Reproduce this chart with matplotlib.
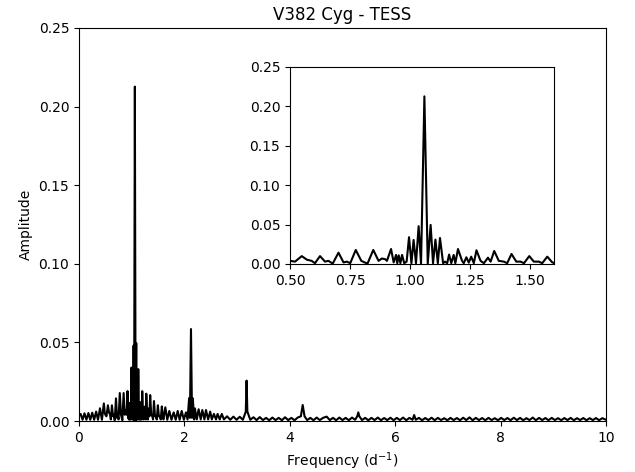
import matplotlib
matplotlib.use("Agg")
import matplotlib.pyplot as plt
import numpy as np

# amplitude spectrum, traced as local maxima / minima (freq in d^-1)
# 0 - 0.5 : window sidelobes of the main peak
freq_low = [0.0, 0.031, 0.068, 0.104, 0.141, 0.178, 0.214, 0.251, 0.288,
            0.325, 0.361, 0.398, 0.435, 0.472, 0.490]
amp_low = [0.003, 0.0045, 0.0008, 0.0049, 0.0008, 0.0051, 0.0008, 0.0053, 0.0008,
           0.006, 0.0008, 0.0081, 0.0008, 0.0112, 0.005]

# 0.5 - 1.6 : region shown in the inset (main peak f1 = 1.060)
freq_mid = [0.500, 0.521, 0.549, 0.570, 0.590, 0.604, 0.625, 0.646, 0.660, 0.678,
            0.702, 0.723, 0.737, 0.751, 0.774, 0.797, 0.811, 0.823, 0.847, 0.869,
            0.883, 0.897, 0.904, 0.921, 0.932, 0.942, 0.947, 0.953, 0.960, 0.967,
            0.976, 0.986, 0.996, 1.006, 1.015, 1.025, 1.036, 1.046, 1.060, 1.074,
            1.086, 1.096, 1.106, 1.116, 1.125, 1.138, 1.146, 1.155, 1.163, 1.172,
            1.182, 1.189, 1.200, 1.217, 1.224, 1.235, 1.245, 1.255, 1.266, 1.277,
            1.294, 1.308, 1.325, 1.336, 1.351, 1.370, 1.391, 1.405, 1.423, 1.443,
            1.461, 1.475, 1.497, 1.516, 1.537, 1.551, 1.572, 1.593, 1.603]
amp_mid = [0.004, 0.003, 0.010, 0.0055, 0.004, 0.001, 0.010, 0.003, 0.004, 0.0005,
           0.0144, 0.002, 0.003, 0.001, 0.0178, 0.004, 0.002, 0.0005, 0.0178, 0.004,
           0.007, 0.006, 0.004, 0.019, 0.002, 0.0115, 0.001, 0.011, 0.001, 0.0115,
           0.001, 0.003, 0.034, 0.001, 0.0305, 0.001, 0.048, 0.0005, 0.2127, 0.0005,
           0.0496, 0.001, 0.031, 0.001, 0.033, 0.001, 0.003, 0.001, 0.012, 0.001,
           0.0115, 0.001, 0.019, 0.004, 0.001, 0.0085, 0.0017, 0.0093, 0.001, 0.0174,
           0.004, 0.001, 0.008, 0.003, 0.0165, 0.004, 0.003, 0.001, 0.0127, 0.003,
           0.003, 0.001, 0.010, 0.003, 0.003, 0.001, 0.0093, 0.002, 0.001]

# 1.6 - 3.3 : sidelobes, 2f1 and 3f1
freq_high = [1.638, 1.675, 1.714, 1.755, 1.797, 1.835, 1.873, 1.910, 1.949, 1.990,
             2.030, 2.060, 2.090, 2.105, 2.125, 2.145, 2.160, 2.185, 2.200, 2.235,
             2.270, 2.310, 2.340, 2.380, 2.410, 2.450, 2.490, 2.520, 2.560, 2.600,
             2.630, 2.670, 2.710, 2.750, 2.810, 2.870, 2.930, 2.990, 3.050, 3.110,
             3.165, 3.180, 3.195, 3.250, 3.310]
amp_high = [0.0087, 0.0008, 0.0064, 0.0008, 0.0055, 0.0008, 0.0064, 0.0008, 0.0064, 0.0008,
            0.0055, 0.001, 0.0146, 0.002, 0.0585, 0.002, 0.0144, 0.001, 0.008, 0.001,
            0.0075, 0.001, 0.007, 0.001, 0.007, 0.001, 0.006, 0.001, 0.0045, 0.001,
            0.0045, 0.001, 0.0045, 0.001, 0.003, 0.0008, 0.0028, 0.0008, 0.0027, 0.0008,
            0.006, 0.0257, 0.006, 0.0008, 0.0024]

# 3.3 - 10 : noise floor with 4f1, 5f1, 6f1
freq_floor = [3.37, 3.43, 3.49, 3.55, 3.61, 3.67, 3.73, 3.79, 3.85, 3.91,
              3.97, 4.03, 4.09, 4.15, 4.21, 4.245, 4.28, 4.33, 4.39, 4.45,
              4.51, 4.57, 4.63, 4.70, 4.76, 4.82, 4.88, 4.94, 5.00, 5.06,
              5.12, 5.18, 5.24, 5.28, 5.30, 5.32, 5.37, 5.43, 5.49, 5.55,
              5.61, 5.67, 5.73, 5.79, 5.85, 5.91, 5.97, 6.03, 6.09, 6.15,
              6.21, 6.27, 6.33, 6.36, 6.39, 6.45, 6.51, 6.57, 6.63, 6.69,
              6.75, 6.81, 6.87, 6.93, 6.99, 7.05, 7.11, 7.17, 7.23, 7.29,
              7.35, 7.41, 7.47, 7.53, 7.59, 7.65, 7.71, 7.77, 7.83, 7.89,
              7.95, 8.01, 8.07, 8.13, 8.19, 8.25, 8.31, 8.37, 8.43, 8.49,
              8.55, 8.61, 8.67, 8.73, 8.79, 8.85, 8.91, 8.97, 9.03, 9.09,
              9.15, 9.21, 9.27, 9.33, 9.39, 9.45, 9.51, 9.57, 9.63, 9.69,
              9.75, 9.81, 9.87, 9.93, 10.0]
amp_floor = [0.0006, 0.0025, 0.0006, 0.002, 0.0005, 0.0022, 0.0006, 0.002, 0.0005, 0.0024,
             0.0006, 0.002, 0.0005, 0.0022, 0.003, 0.0102, 0.003, 0.0006, 0.002, 0.0005,
             0.0022, 0.0006, 0.002, 0.0028, 0.0006, 0.002, 0.0005, 0.0022, 0.0006, 0.002,
             0.0005, 0.0022, 0.0008, 0.003, 0.0055, 0.003, 0.0006, 0.002, 0.0005, 0.002,
             0.0006, 0.0022, 0.0005, 0.0019, 0.0006, 0.0021, 0.0005, 0.002, 0.0006, 0.0022,
             0.0005, 0.002, 0.0008, 0.0038, 0.0008, 0.002, 0.0005, 0.0019, 0.0006, 0.0021,
             0.0005, 0.002, 0.0006, 0.0018, 0.0005, 0.002, 0.0006, 0.0019, 0.0005, 0.0021,
             0.0006, 0.0023, 0.0005, 0.002, 0.0006, 0.0019, 0.0005, 0.002, 0.0006, 0.0018,
             0.0005, 0.002, 0.0006, 0.0019, 0.0005, 0.0021, 0.0006, 0.002, 0.0005, 0.0018,
             0.0006, 0.0022, 0.0005, 0.002, 0.0006, 0.0019, 0.0005, 0.002, 0.0006, 0.0018,
             0.0005, 0.0019, 0.0006, 0.002, 0.0005, 0.0018, 0.0006, 0.0019, 0.0005, 0.0018,
             0.0006, 0.0019, 0.0005, 0.0018, 0.0008]

freq = np.array(freq_low + freq_mid + freq_high + freq_floor)
amp = np.array(amp_low + amp_mid + amp_high + amp_floor)

fig = plt.figure(figsize=(6.35, 4.72), dpi=100)
ax = fig.add_axes([0.1244, 0.108, 0.8299, 0.8327])
ax.plot(freq, amp, color="k", lw=1.5)
ax.set_xlim(0, 10)
ax.set_ylim(0, 0.25)
ax.set_xticks([0, 2, 4, 6, 8, 10])
ax.set_yticks([0.0, 0.05, 0.10, 0.15, 0.20, 0.25])
ax.yaxis.set_major_formatter(matplotlib.ticker.FormatStrFormatter("%.2f"))
ax.set_xlabel("Frequency (d$^{-1}$)")
ax.set_ylabel("Amplitude")
ax.set_title("V382 Cyg - TESS")

ins = fig.add_axes([0.4567, 0.4407, 0.4157, 0.4174])
ins.plot(freq, amp, color="k", lw=1.5)
ins.set_xlim(0.5, 1.6)
ins.set_ylim(0, 0.25)
ins.set_xticks([0.5, 0.75, 1.0, 1.25, 1.5])
ins.set_yticks([0.0, 0.05, 0.10, 0.15, 0.20, 0.25])
ins.xaxis.set_major_formatter(matplotlib.ticker.FormatStrFormatter("%.2f"))
ins.yaxis.set_major_formatter(matplotlib.ticker.FormatStrFormatter("%.2f"))

fig.savefig("out.png", dpi=100)
